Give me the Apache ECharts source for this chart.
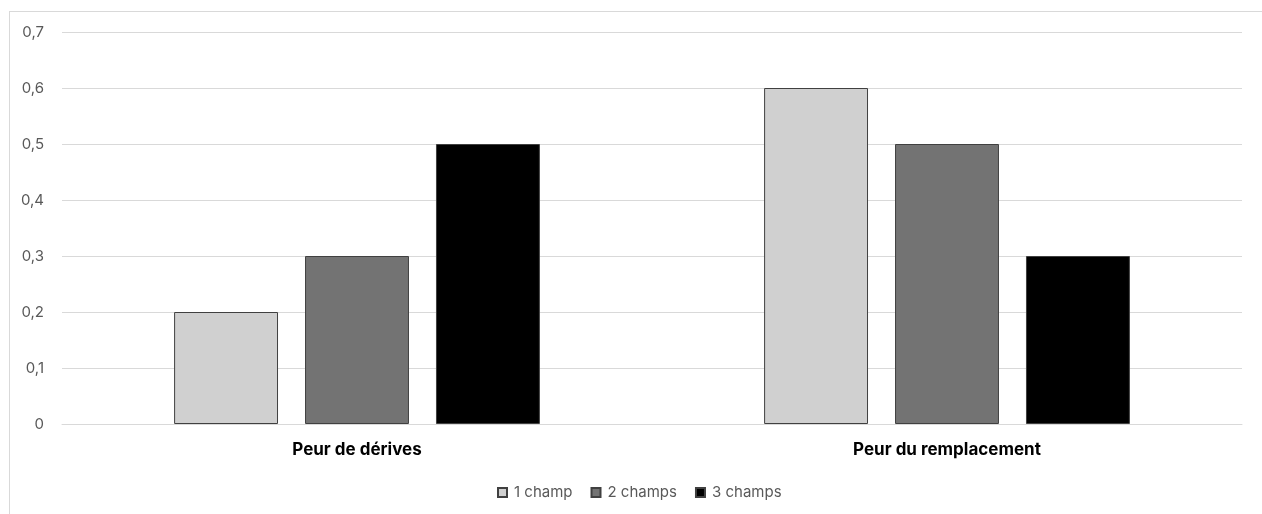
<!DOCTYPE html>
<html>
<head>
<meta charset="utf-8">
<script src="https://cdn.jsdelivr.net/npm/echarts@6/dist/echarts.min.js"></script>
<style>
  html, body { margin: 0; padding: 0; background: #fff; }
  #frame { position: absolute; left: 9px; top: 11px; width: 1300px; height: 600px; border: 1px solid #d9d9d9; box-sizing: border-box; }
  #chart { position: absolute; left: 0; top: 0; width: 1262px; height: 514px; }
</style>
</head>
<body>
<div id="frame"></div>
<div id="chart"></div>
<script>
const categories = ['Peur de dérives', 'Peur du remplacement'];
const seriesNames = ['1 champ', '2 champs', '3 champs'];
const oneField = [0.2, 0.6];
const twoFields = [0.3, 0.5];
const threeFields = [0.5, 0.3];
const yTicks = [0, 0.1, 0.2, 0.3, 0.4, 0.5, 0.6, 0.7];

const colors = ['#d0d0d0', '#737373', '#000000'];
const values = [oneField, twoFields, threeFields];

const chart = echarts.init(document.getElementById('chart'), null, { renderer: 'canvas' });
chart.setOption({
  animation: false,
  textStyle: { fontFamily: 'Inter, Roboto, sans-serif' },
  grid: { left: 62, right: 20, top: 32, bottom: 90 },
  legend: {
    top: 480,
    left: 492,
    itemWidth: 9,
    itemHeight: 9,
    itemGap: 18,
    icon: 'rect',
    textStyle: { color: '#595959', fontSize: 15, padding: [0, 0, 0, 2] },
    data: seriesNames
  },
  xAxis: {
    type: 'category',
    data: categories,
    axisTick: { show: false },
    axisLine: { lineStyle: { color: '#d9d9d9', width: 1 } },
    axisLabel: { color: '#000', fontWeight: 'bold', fontSize: 17, margin: 17 }
  },
  yAxis: {
    type: 'value',
    min: 0,
    max: 0.7,
    interval: 0.1,
    axisLine: { show: false },
    axisTick: { show: false },
    splitLine: { lineStyle: { color: '#d9d9d9', width: 1 } },
    axisLabel: {
      color: '#595959',
      fontSize: 15,
      margin: 18,
      formatter: v => {
        const t = yTicks.find(x => Math.abs(x - v) < 1e-9);
        return String(Math.round((t ?? v) * 10) / 10).replace('.', ',');
      }
    }
  },
  series: seriesNames.map((name, i) => ({
    name,
    type: 'bar',
    data: values[i],
    barGap: '26%',
    barCategoryGap: '38%',
    itemStyle: { color: colors[i], borderColor: '#404040', borderWidth: 1 }
  }))
});
</script>
</body>
</html>
